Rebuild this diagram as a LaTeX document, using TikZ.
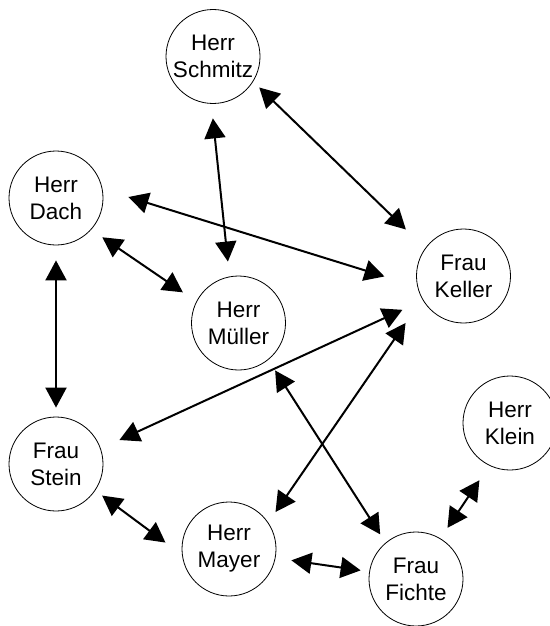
\documentclass[tikz,border=0pt]{standalone}
\usepackage{fontspec}
\setmainfont{Liberation Sans}
\usetikzlibrary{arrows.meta}

\begin{document}
\begin{tikzpicture}[x=1pt,y=-1pt,>={Triangle[length=20pt,width=21pt]}]
    \tikzstyle{vertex}=[circle,draw=black,line width=0.8pt,fill=white,minimum size=94pt,inner sep=0pt,align=center,font=\fontsize{22.5}{27}\selectfont]
    \tikzstyle{link}=[<->,line width=2pt]
    \useasboundingbox (0,0) rectangle (549,626);

    \foreach \name/\x/\y/\txt in {schmitz/213/56.5/{Herr\\Schmitz}, dach/56/198/{Herr\\Dach},
            keller/463.5/276/{Frau\\Keller}, mueller/238.5/323/{Herr\\Müller},
            stein/56/464/{Frau\\Stein}, klein/510/423/{Herr\\Klein},
            mayer/229/549/{Herr\\Mayer}, fichte/416/579/{Frau\\Fichte}}
            \node[vertex] (\name) at (\x,\y) {\txt};

        % from/anchor/gap/to/anchor/gap
        \foreach \from/\a/\sa/\to/\b/\sb in {schmitz/328.3/8.4/keller/144.5/26.8,
            schmitz/268.2/14.6/mueller/101/15, dach/11.2/27.1/keller/193.8/34.4,
            dach/318.1/13.4/mueller/153.8/16.2, dach/270/15/stein/90/9,
            keller/211.6/22.5/stein/19.2/20.5, keller/209.5/29.1/mayer/34.4/12.7,
            mueller/309.2/12.6/fichte/130.8/9.9, stein/326.5/8.5/mayer/187.7/20.5,
            mayer/349.6/16/fichte/171.8/8.6, fichte/59.6/12.7/klein/244.8/17.6}
            \draw[link,shorten <=\sa pt,shorten >=\sb pt] (\from.\a) -- (\to.\b);
\end{tikzpicture}
\end{document}
